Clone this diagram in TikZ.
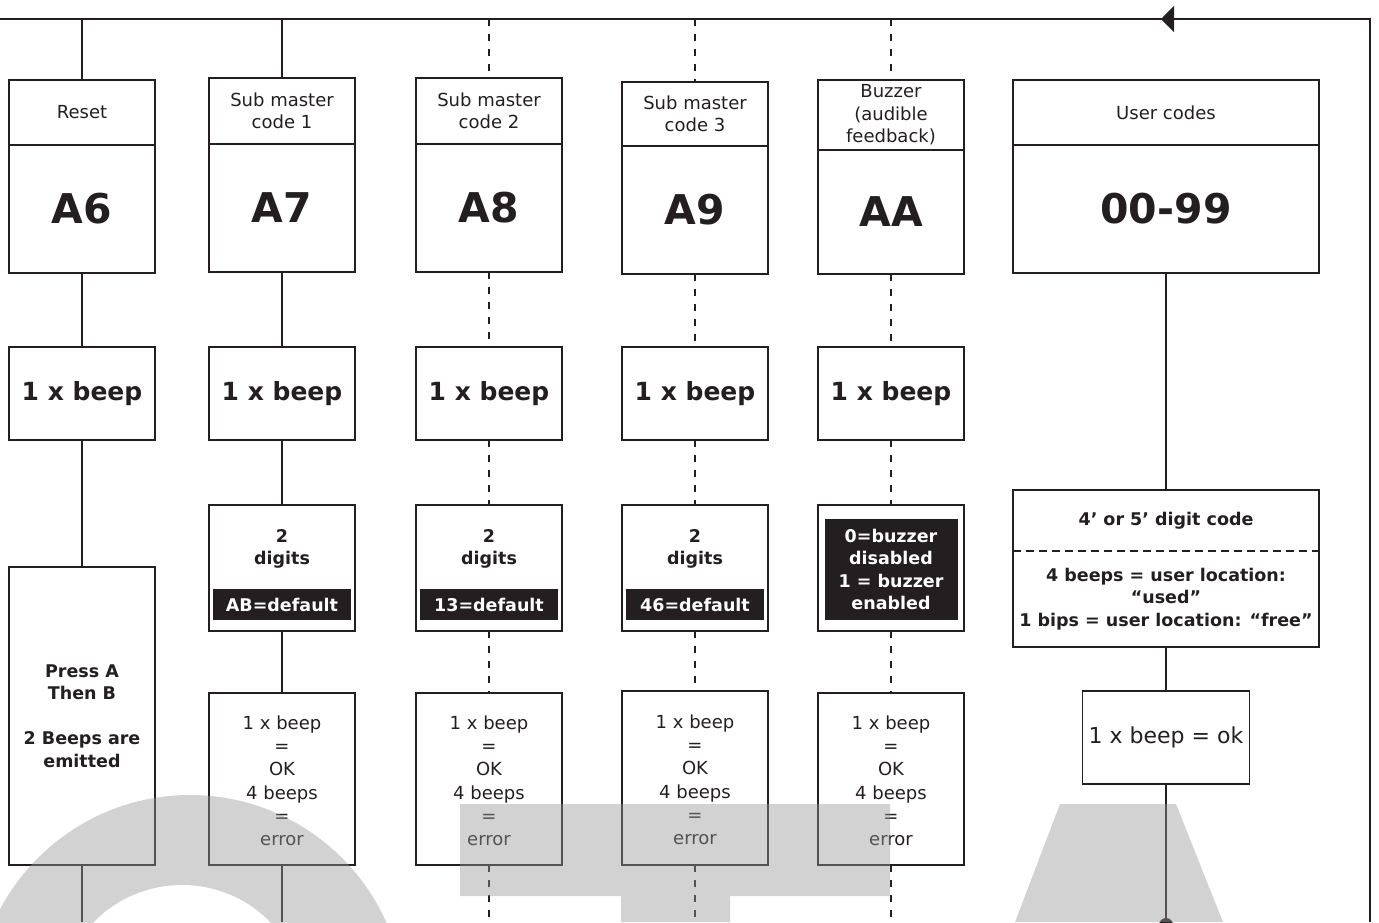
\documentclass[tikz,border=0pt]{standalone}
\usepackage{fontspec}
\setmainfont{DejaVu Sans}
\usepackage{tikz}
\usetikzlibrary{positioning,arrows.meta}
\definecolor{ink}{HTML}{231F20}
\newcommand{\txtreg}{\fontsize{18}{22.5}\selectfont}
\newcommand{\txtres}{\fontsize{18}{23.2}\selectfont}
\newcommand{\txtbold}{\fontsize{17.5}{22.5}\selectfont\bfseries}
\newcommand{\txtbeep}{\fontsize{25}{30}\selectfont\bfseries}
\newcommand{\txtcode}{\fontsize{41}{48}\selectfont\bfseries}
\newcommand{\txtok}{\fontsize{22}{26}\selectfont}

\begin{document}
\begin{tikzpicture}[x=1pt, y=-1pt, line width=1.8pt, color=ink,
    every node/.style={align=center, inner sep=0pt, outer sep=0pt, text=ink},
    box/.style={draw=ink, minimum width=146pt},
    titlebox/.style={box, minimum height=65pt, font=\txtreg},
    codebox/.style={box, minimum height=128pt, font=\txtcode},
    beepbox/.style={box, minimum height=93pt, font=\txtbeep},
    digitbox/.style={box, minimum height=126pt},
    darkbar/.style={fill=ink, text=white, font=\txtbold, minimum width=138pt, minimum height=31pt},
    resultbox/.style={box, minimum height=172pt, font=\txtres},
    pressbox/.style={box, minimum height=298pt, font=\txtbold},
    link/.style={draw=ink},
    dlink/.style={draw=ink, dash pattern=on 7pt off 8pt},
    watermark/.style={fill=black!41, fill opacity=0.43}]
    \useasboundingbox (0,0) rectangle (1379,922);
    \coordinate (tl) at (0,19);
    \coordinate (tr) at (1370,19);
    \coordinate (br) at (1370,922);

    \node[titlebox, anchor=north] (t6) at (82,80) {Reset};
    \node[codebox, below=0pt of t6] (c6) {A6};
    \node[beepbox, anchor=north] (b6) at (82,347) {1 x beep};
    \node[pressbox, anchor=north] (p6) at (82,567) {Press A\\Then B\\[22.5pt]2 Beeps are\\emitted};

    \node[titlebox, anchor=north, minimum height=66pt] (t7) at (282,78) {Sub master\\code 1};
    \node[codebox, below=0pt of t7] (c7) {A7};
    \node[beepbox, anchor=north] (b7) at (282,347) {1 x beep};
    \node[digitbox, anchor=north] (d7) at (282,505) {};
    \node[font=\txtbold, below=24pt of d7.north] (n7) {2\\digits};
    \node[darkbar, above=11pt of d7.south] (k7) {AB=default};
    \node[resultbox, anchor=north] (r7) at (282,693) {\\[-6pt]1 x beep\\=\\OK\\4 beeps\\=\\error};

    \node[titlebox, anchor=north, minimum height=66pt] (t8) at (489,78) {Sub master\\code 2};
    \node[codebox, below=0pt of t8] (c8) {A8};
    \node[beepbox, anchor=north] (b8) at (489,347) {1 x beep};
    \node[digitbox, anchor=north] (d8) at (489,505) {};
    \node[font=\txtbold, below=24pt of d8.north] (n8) {2\\digits};
    \node[darkbar, above=11pt of d8.south] (k8) {13=default};
    \node[resultbox, anchor=north] (r8) at (489,693) {\\[-6pt]1 x beep\\=\\OK\\4 beeps\\=\\error};

    \node[titlebox, anchor=north, minimum height=64pt] (t9) at (695,82) {Sub master\\code 3};
    \node[codebox, below=0pt of t9] (c9) {A9};
    \node[beepbox, anchor=north] (b9) at (695,347) {1 x beep};
    \node[digitbox, anchor=north] (d9) at (695,505) {};
    \node[font=\txtbold, below=24pt of d9.north] (n9) {2\\digits};
    \node[darkbar, above=11pt of d9.south] (k9) {46=default};
    \node[resultbox, anchor=north, minimum height=174pt] (r9) at (695,691) {\\[-6pt]1 x beep\\=\\OK\\4 beeps\\=\\error};

    \node[titlebox, anchor=north, minimum height=70pt] (t10) at (891,80) {Buzzer\\(audible\\feedback)};
    \node[codebox, minimum height=124pt, below=0pt of t10] (c10) {AA};
    \node[beepbox, anchor=north] (b10) at (891,347) {1 x beep};
    \node[digitbox, anchor=north] (d10) at (891,505) {};
    \node[darkbar, minimum width=133pt, minimum height=101pt] (k10) at ([yshift=-1.5pt]d10.center) {0=buzzer\\disabled\\1 = buzzer\\enabled};
    \node[resultbox, anchor=north] (r10) at (891,693) {\\[-6pt]1 x beep\\=\\OK\\4 beeps\\=\\error};

    \node[titlebox, anchor=north, minimum width=306pt] (t99) at (1166,80) {User codes};
    \node[codebox, minimum width=306pt, below=0pt of t99] (c99) {00-99};
    \node[anchor=north, minimum width=306pt, minimum height=61pt, font=\txtbold] (u1) at (1166,490) {4’ or 5’ digit code};
    \node[below=0pt of u1, minimum width=306pt, minimum height=96pt, font=\txtbold] (u2) {4 beeps = user location:\\“used”\\1 bips = user location: “free”};
    \draw[link] (u1.north west) rectangle (u2.south east);
    \draw[draw=ink, dash pattern=on 8pt off 5pt] (u1.south west) -- (u1.south east);
    \node[box, anchor=north, minimum width=167pt, minimum height=93pt, font=\txtok] (ok) at (1166,691) {1 x beep = ok};
    \node[circle, fill=ink, minimum size=14pt] (dot) at (1166,925) {};

    \draw[link, shorten >=-5pt, -{Triangle[length=13pt, width=26pt]}] (br) -- (tr) -- (t99.north |- tr);
    \draw[link] (t99.north |- tr) -- (tl);

    \draw[link] (t6.north |- tl) -- (t6.north) (c6.south) -- (b6.north) (b6.south) -- (p6.north) (p6.south) -- (p6.south |- br);
    \draw[link] (t7.north |- tl) -- (t7.north) (c7.south) -- (b7.north) (b7.south) -- (d7.north) (d7.south) -- (r7.north) (r7.south) -- (r7.south |- br);
    \draw[dlink] (t8.north |- tl) -- (t8.north) (c8.south) -- (b8.north) (b8.south) -- (d8.north) (d8.south) -- (r8.north) (r8.south) -- (r8.south |- br);
    \draw[dlink] (t9.north |- tl) -- (t9.north) (c9.south) -- (b9.north) (b9.south) -- (d9.north) (d9.south) -- (r9.north) (r9.south) -- (r9.south |- br);
    \draw[dlink] (t10.north |- tl) -- (t10.north) (c10.south) -- (b10.north) (b10.south) -- (d10.north) (d10.south) -- (r10.north) (r10.south) -- (r10.south |- br);
    \draw[link] (c99.south) -- (u1.north) (u2.south) -- (ok.north) (ok.south) -- (dot);

    \begin{scope}
        \clip (0,0) rectangle (1379,922);
        \fill[watermark, even odd rule] (190,1010) ellipse [x radius=215, y radius=215] (182,1000) ellipse [x radius=120, y radius=115];
        \fill[watermark] (460,804) rectangle (890,896) (621,896) rectangle (730,922);
        \fill[watermark] (1060,804) -- (1176,804) -- (1223,922) -- (1015,922) -- cycle;
    \end{scope}
\end{tikzpicture}
\end{document}
